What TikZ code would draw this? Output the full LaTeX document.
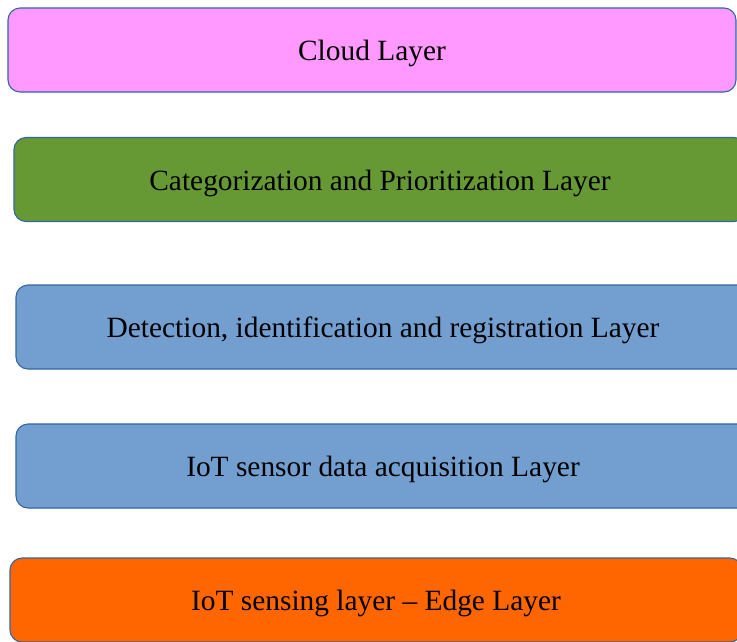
\documentclass[tikz,border=0pt]{standalone}
\usepackage{fontspec}
\setmainfont{Liberation Serif}
\definecolor{cloudpink}{HTML}{FF99FF}
\definecolor{catgreen}{HTML}{669933}
\definecolor{layblue}{HTML}{729FCF}
\definecolor{edgeorange}{HTML}{FF6600}
\definecolor{rim}{HTML}{3465A4}
\begin{document}
\begin{tikzpicture}[x=1pt,y=-1pt,
  layer/.style={draw=rim, line width=1.1pt, rounded corners=12pt,
    minimum height=84pt, inner sep=0pt, text height=22pt, text depth=0.4pt,
    font=\fontsize{29.4}{34}\selectfont}]
\useasboundingbox (0,0) rectangle (737,641);
\clip (0,0) rectangle (737,641);
\node[layer, fill=cloudpink, minimum width=728pt] (cloud) at (372,50) {Cloud Layer};
\node[layer, fill=catgreen, minimum width=732pt] (cat) at (380,179.5) {Categorization and Prioritization Layer};
\node[layer, fill=layblue, minimum width=734pt] (det) at (383,327) {Detection, identification and registration Layer};
\node[layer, fill=layblue, minimum width=734pt] (acq) at (383,466) {IoT sensor data acquisition Layer};
\node[layer, fill=edgeorange, minimum width=732pt] (edge) at (376,600) {IoT sensing layer -- Edge Layer};
\end{tikzpicture}
\end{document}
